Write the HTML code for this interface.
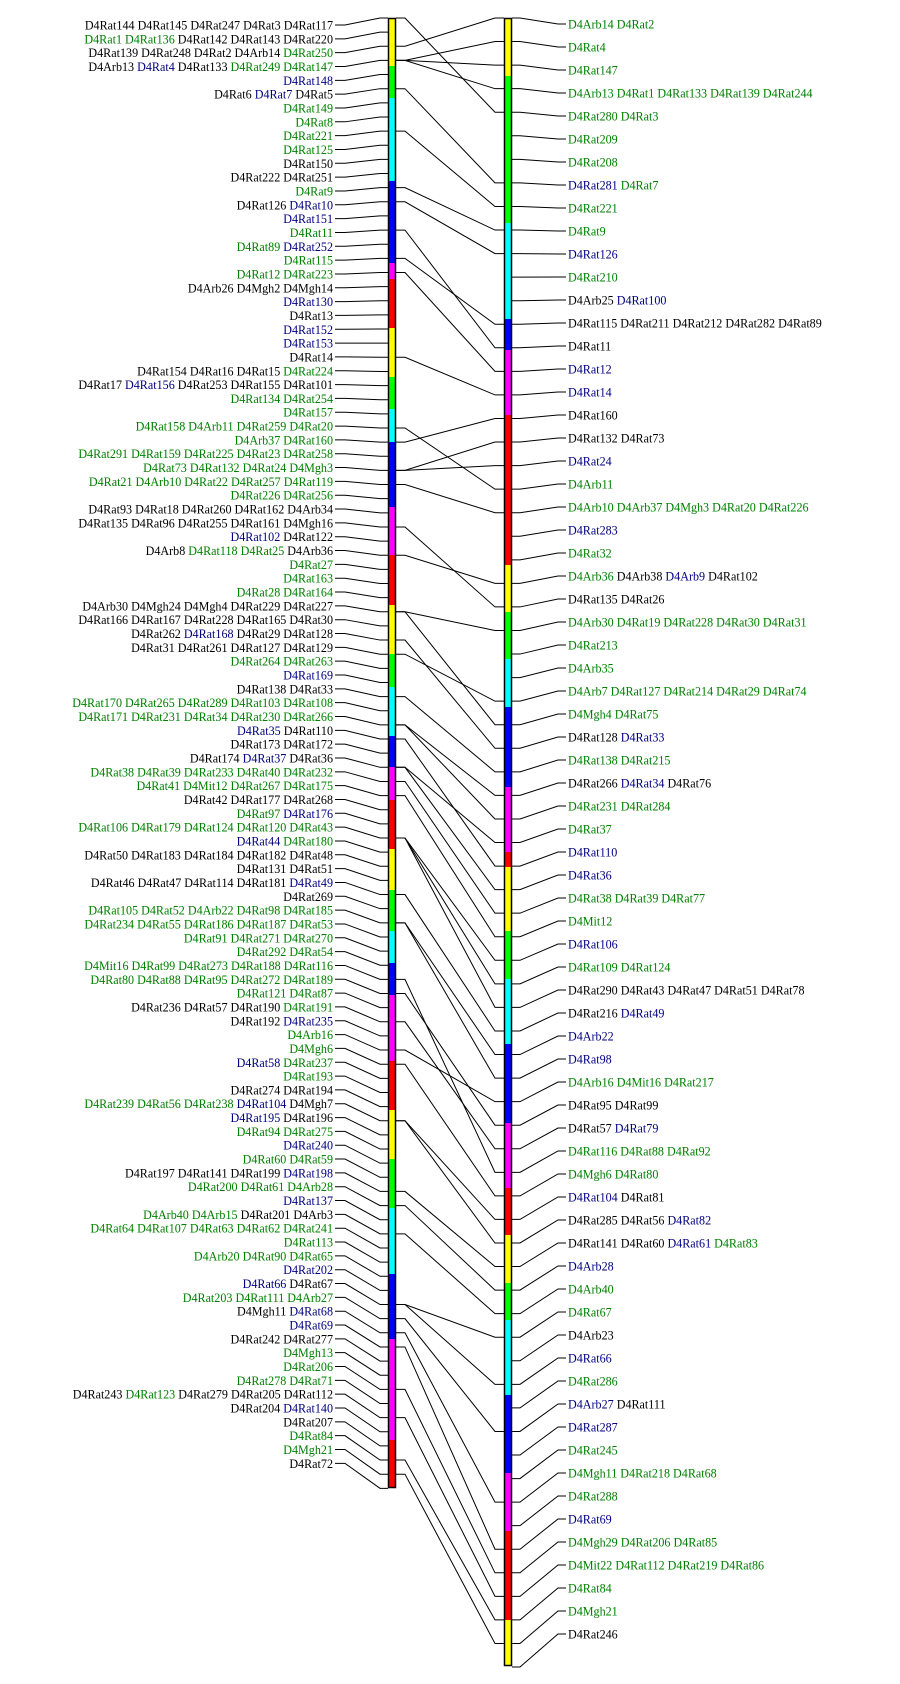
<!DOCTYPE html>
<html><head><meta charset="utf-8">
<style>
html,body{margin:0;padding:0;background:#fff;}
svg{display:block;}
text{font-family:"Liberation Serif",serif;font-size:12.1px;}
</style></head>
<body>
<svg id="s" width="900" height="1684" xmlns="http://www.w3.org/2000/svg"></svg>
<script>
var L=["D4Rat144 D4Rat145 D4Rat247 D4Rat3 D4Rat117","D4Rat1* D4Rat136* D4Rat142 D4Rat143 D4Rat220","D4Rat139 D4Rat248 D4Rat2 D4Arb14 D4Rat250*","D4Arb13 D4Rat4^ D4Rat133 D4Rat249* D4Rat147*","D4Rat148^","D4Rat6 D4Rat7^ D4Rat5","D4Rat149*","D4Rat8*","D4Rat221*","D4Rat125*","D4Rat150","D4Rat222 D4Rat251","D4Rat9*","D4Rat126 D4Rat10^","D4Rat151^","D4Rat11*","D4Rat89* D4Rat252^","D4Rat115*","D4Rat12* D4Rat223*","D4Arb26 D4Mgh2 D4Mgh14","D4Rat130^","D4Rat13","D4Rat152^","D4Rat153^","D4Rat14","D4Rat154 D4Rat16 D4Rat15 D4Rat224*","D4Rat17 D4Rat156^ D4Rat253 D4Rat155 D4Rat101","D4Rat134* D4Rat254*","D4Rat157*","D4Rat158* D4Arb11* D4Rat259* D4Rat20*","D4Arb37* D4Rat160*","D4Rat291* D4Rat159* D4Rat225* D4Rat23* D4Rat258*","D4Rat73* D4Rat132* D4Rat24* D4Mgh3*","D4Rat21* D4Arb10* D4Rat22* D4Rat257* D4Rat119*","D4Rat226* D4Rat256*","D4Rat93 D4Rat18 D4Rat260 D4Rat162 D4Arb34","D4Rat135 D4Rat96 D4Rat255 D4Rat161 D4Mgh16","D4Rat102^ D4Rat122","D4Arb8 D4Rat118* D4Rat25* D4Arb36","D4Rat27*","D4Rat163*","D4Rat28* D4Rat164*","D4Arb30 D4Mgh24 D4Mgh4 D4Rat229 D4Rat227","D4Rat166 D4Rat167 D4Rat228 D4Rat165 D4Rat30","D4Rat262 D4Rat168^ D4Rat29 D4Rat128","D4Rat31 D4Rat261 D4Rat127 D4Rat129","D4Rat264* D4Rat263*","D4Rat169^","D4Rat138 D4Rat33","D4Rat170* D4Rat265* D4Rat289* D4Rat103* D4Rat108*","D4Rat171* D4Rat231* D4Rat34* D4Rat230* D4Rat266*","D4Rat35^ D4Rat110","D4Rat173 D4Rat172","D4Rat174 D4Rat37^ D4Rat36","D4Rat38* D4Rat39* D4Rat233* D4Rat40* D4Rat232*","D4Rat41* D4Mit12* D4Rat267* D4Rat175*","D4Rat42 D4Rat177 D4Rat268","D4Rat97* D4Rat176^","D4Rat106* D4Rat179* D4Rat124* D4Rat120* D4Rat43*","D4Rat44^ D4Rat180*","D4Rat50 D4Rat183 D4Rat184 D4Rat182 D4Rat48","D4Rat131 D4Rat51","D4Rat46 D4Rat47 D4Rat114 D4Rat181 D4Rat49^","D4Rat269","D4Rat105* D4Rat52* D4Arb22* D4Rat98* D4Rat185*","D4Rat234* D4Rat55* D4Rat186* D4Rat187* D4Rat53*","D4Rat91* D4Rat271* D4Rat270*","D4Rat292* D4Rat54*","D4Mit16* D4Rat99* D4Rat273* D4Rat188* D4Rat116*","D4Rat80* D4Rat88* D4Rat95* D4Rat272* D4Rat189*","D4Rat121* D4Rat87*","D4Rat236 D4Rat57 D4Rat190 D4Rat191*","D4Rat192 D4Rat235^","D4Arb16*","D4Mgh6*","D4Rat58^ D4Rat237*","D4Rat193*","D4Rat274 D4Rat194","D4Rat239* D4Rat56* D4Rat238* D4Rat104^ D4Mgh7","D4Rat195^ D4Rat196","D4Rat94* D4Rat275*","D4Rat240^","D4Rat60* D4Rat59*","D4Rat197 D4Rat141 D4Rat199 D4Rat198^","D4Rat200* D4Rat61* D4Arb28*","D4Rat137^","D4Arb40* D4Arb15* D4Rat201 D4Arb3","D4Rat64* D4Rat107* D4Rat63* D4Rat62* D4Rat241*","D4Rat113*","D4Arb20* D4Rat90* D4Rat65*","D4Rat202^","D4Rat66^ D4Rat67","D4Rat203* D4Rat111* D4Arb27*","D4Mgh11 D4Rat68^","D4Rat69^","D4Rat242 D4Rat277","D4Mgh13*","D4Rat206*","D4Rat278* D4Rat71*","D4Rat243 D4Rat123* D4Rat279 D4Rat205 D4Rat112","D4Rat204 D4Rat140^","D4Rat207","D4Rat84*","D4Mgh21*","D4Rat72"];
var R=["D4Arb14* D4Rat2*","D4Rat4*","D4Rat147*","D4Arb13* D4Rat1* D4Rat133* D4Rat139* D4Rat244*","D4Rat280* D4Rat3*","D4Rat209*","D4Rat208*","D4Rat281^ D4Rat7*","D4Rat221*","D4Rat9*","D4Rat126^","D4Rat210*","D4Arb25 D4Rat100^","D4Rat115 D4Rat211 D4Rat212 D4Rat282 D4Rat89","D4Rat11","D4Rat12^","D4Rat14^","D4Rat160","D4Rat132 D4Rat73","D4Rat24^","D4Arb11*","D4Arb10* D4Arb37* D4Mgh3* D4Rat20* D4Rat226*","D4Rat283^","D4Rat32*","D4Arb36* D4Arb38 D4Arb9^ D4Rat102","D4Rat135 D4Rat26","D4Arb30* D4Rat19* D4Rat228* D4Rat30* D4Rat31*","D4Rat213*","D4Arb35*","D4Arb7* D4Rat127* D4Rat214* D4Rat29* D4Rat74*","D4Mgh4* D4Rat75*","D4Rat128 D4Rat33^","D4Rat138* D4Rat215*","D4Rat266 D4Rat34^ D4Rat76","D4Rat231* D4Rat284*","D4Rat37*","D4Rat110^","D4Rat36^","D4Rat38* D4Rat39* D4Rat77*","D4Mit12*","D4Rat106^","D4Rat109* D4Rat124*","D4Rat290 D4Rat43 D4Rat47 D4Rat51 D4Rat78","D4Rat216 D4Rat49^","D4Arb22^","D4Rat98^","D4Arb16* D4Mit16* D4Rat217*","D4Rat95 D4Rat99","D4Rat57 D4Rat79^","D4Rat116* D4Rat88* D4Rat92*","D4Mgh6* D4Rat80*","D4Rat104^ D4Rat81","D4Rat285 D4Rat56 D4Rat82^","D4Rat141 D4Rat60 D4Rat61^ D4Rat83*","D4Arb28^","D4Arb40*","D4Rat67*","D4Arb23","D4Rat66^","D4Rat286*","D4Arb27^ D4Rat111","D4Rat287^","D4Rat245*","D4Mgh11* D4Rat218* D4Rat68*","D4Rat288*","D4Rat69^","D4Mgh29* D4Rat206* D4Rat85*","D4Mit22* D4Rat112* D4Rat219* D4Rat86*","D4Rat84*","D4Mgh21*","D4Rat246"];
var LB=[18,66,98,181,263,279,328,377,409,442,507,555,605,654,687,736,767,800,849,890,931,963,995,1061,1110,1159,1208,1274,1339,1440,1488];
var RB=[18,76,223,319,350,415,565,612,659,707,787,852,867,931,979,1044,1123,1188,1235,1283,1320,1395,1473,1531,1620,1666];
var C=["#ffff00","#00ff00","#00ffff","#0000ff","#ff00ff","#ff0000"];
var o="";
function col(w){var c=w.slice(-1);if(c=="*")return["#008000",w.slice(0,-1)];if(c=="^")return["#000080",w.slice(0,-1)];return["#000",w];}
function tx(row,x,y,anchor){var ws=row.split(" ");var s='<text x="'+x+'" y="'+(y+4.5)+'" text-anchor="'+anchor+'">';ws.forEach(function(w,i){var c=col(w);s+='<tspan fill="'+c[0]+'">'+(i?' ':'')+c[1]+'</tspan>';});return s+'</text>';}
var lp={},ln=[];
L.forEach(function(r,i){var y=25+i*13.83;var p=18+(y-25)*1470/1438;ln.push(p);
 o+=tx(r,333,y,"end");
 o+='<polyline points="335,'+y+' 345,'+y+' 380,'+p+' 388,'+p+'" fill="none" stroke="#000" stroke-width="1"/>';
 r.split(" ").forEach(function(w){lp[col(w)[1]]=p;});});
R.forEach(function(r,i){var y=24+i*23;var p=18+(y-24)*1648/1609;
 o+=tx(r,568,y,"start");
 o+='<polyline points="512,'+p+' 520,'+p+' 558,'+y+' 566,'+y+'" fill="none" stroke="#000" stroke-width="1"/>';
 var ws=r.split(" ");for(var k=0;k<ws.length;k++){var n=col(ws[k])[1];if(lp[n]!==undefined){var q=lp[n];
 o+='<polyline points="396,'+q+' 405,'+q+' 495,'+p+' 504,'+p+'" fill="none" stroke="#000" stroke-width="1"/>';break;}}});
function bar(x,B){for(var i=0;i<B.length-1;i++){o+='<rect x="'+x+'" y="'+B[i]+'" width="8" height="'+(B[i+1]-B[i])+'" fill="'+C[i%6]+'"/>';}
 o+='<rect x="'+(x+0.5)+'" y="'+(B[0]+0.5)+'" width="7" height="'+(B[B.length-1]-B[0]-1)+'" fill="none" stroke="#000" stroke-width="1.5"/>';}
bar(388,LB);bar(504,RB);
document.getElementById("s").innerHTML=o;
</script>
</body></html>
